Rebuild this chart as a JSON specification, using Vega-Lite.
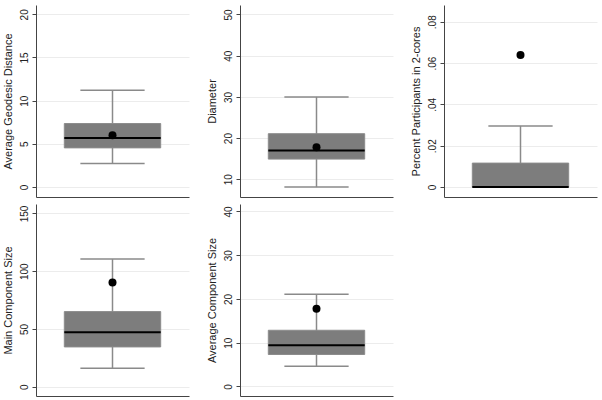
{
  "$schema": "https://vega.github.io/schema/vega-lite/v6.json",
  "padding": {"left": 2, "top": 5, "right": 5, "bottom": 5},
  "background": "white",
  "config": {
    "view": {"stroke": null},
    "font": "Liberation Sans",
    "axisY": {
      "labelAngle": -90, "labelFontSize": 10, "labelColor": "#222", "titleFontSize": 11, "titleFontWeight": "normal", "titleColor": "#222",
      "domainColor": "#444", "tickColor": "#444", "tickSize": 4, "gridColor": "#ececec", "labelPadding": 3, "titlePadding": 6
    },
    "axisX": {"ticks": false, "labels": false, "title": null, "grid": false, "domainColor": "#444"}
  },
  "data": {"values": [
    {"panel": "Average Geodesic Distance", "lo": 2.72, "q1": 4.53, "med": 5.68, "q3": 7.35, "hi": 11.2, "mean": 6.0},
    {"panel": "Diameter", "lo": 8.1, "q1": 14.9, "med": 17.0, "q3": 21.07, "hi": 30.0, "mean": 17.8},
    {"panel": "Percent Participants in 2-cores", "lo": 0, "q1": 0, "med": 0, "q3": 0.0116, "hi": 0.0296, "mean": 0.0639},
    {"panel": "Main Component Size", "lo": 16, "q1": 34.4, "med": 47.2, "q3": 65, "hi": 110.5, "mean": 90.2},
    {"panel": "Average Component Size", "lo": 4.6, "q1": 7.29, "med": 9.42, "q3": 12.83, "hi": 21.07, "mean": 17.74}
  ]},
  "columns": 3,
  "spacing": {"column": 17, "row": 7},
  "concat": [
    {
      "width": 153, "height": 192,
      "transform": [{"filter": "datum.panel == 'Average Geodesic Distance'"}],
      "encoding": {
        "x": {"datum": 0.5, "type": "quantitative", "scale": {"domain": [0, 1]}, "axis": {}},
        "y": {"field": "lo", "type": "quantitative", "scale": {"domain": [-1.16, 21.08], "nice": false, "zero": false}, "axis": {"title": "Average Geodesic Distance", "values": [0, 5, 10, 15, 20]}}
      },
      "layer": [
        {"mark": {"type": "rule", "color": "#8a8a8a", "strokeWidth": 1.5}, "encoding": {"y2": {"field": "hi"}}},
        {"mark": {"type": "rule", "color": "#8a8a8a", "strokeWidth": 1.5}, "encoding": {"x": {"datum": 0.29}, "x2": {"datum": 0.71}, "y": {"field": "hi"}}},
        {"mark": {"type": "rule", "color": "#8a8a8a", "strokeWidth": 1.5}, "encoding": {"x": {"datum": 0.29}, "x2": {"datum": 0.71}}},
        {"mark": {"type": "rect", "fill": "#7d7d7d", "stroke": "#8c8c8c", "strokeWidth": 1}, "encoding": {"x": {"datum": 0.185}, "x2": {"datum": 0.815}, "y": {"field": "q1"}, "y2": {"field": "q3"}}},
        {"mark": {"type": "rule", "color": "#000", "strokeWidth": 2}, "encoding": {"x": {"datum": 0.185}, "x2": {"datum": 0.815}, "y": {"field": "med"}}},
        {"mark": {"type": "point", "filled": true, "color": "#000", "opacity": 1, "size": 64}, "encoding": {"y": {"field": "mean"}}}
      ]
    },
    {
      "width": 153, "height": 192,
      "transform": [{"filter": "datum.panel == 'Diameter'"}],
      "encoding": {
        "x": {"datum": 0.5, "type": "quantitative", "scale": {"domain": [0, 1]}, "axis": {}},
        "y": {"field": "lo", "type": "quantitative", "scale": {"domain": [5.7, 52.3], "nice": false, "zero": false}, "axis": {"title": "Diameter", "values": [10, 20, 30, 40, 50]}}
      },
      "layer": [
        {"mark": {"type": "rule", "color": "#8a8a8a", "strokeWidth": 1.5}, "encoding": {"y2": {"field": "hi"}}},
        {"mark": {"type": "rule", "color": "#8a8a8a", "strokeWidth": 1.5}, "encoding": {"x": {"datum": 0.29}, "x2": {"datum": 0.71}, "y": {"field": "hi"}}},
        {"mark": {"type": "rule", "color": "#8a8a8a", "strokeWidth": 1.5}, "encoding": {"x": {"datum": 0.29}, "x2": {"datum": 0.71}}},
        {"mark": {"type": "rect", "fill": "#7d7d7d", "stroke": "#8c8c8c", "strokeWidth": 1}, "encoding": {"x": {"datum": 0.185}, "x2": {"datum": 0.815}, "y": {"field": "q1"}, "y2": {"field": "q3"}}},
        {"mark": {"type": "rule", "color": "#000", "strokeWidth": 2}, "encoding": {"x": {"datum": 0.185}, "x2": {"datum": 0.815}, "y": {"field": "med"}}},
        {"mark": {"type": "point", "filled": true, "color": "#000", "opacity": 1, "size": 64}, "encoding": {"y": {"field": "mean"}}}
      ]
    },
    {
      "width": 153, "height": 192,
      "transform": [{"filter": "datum.panel == 'Percent Participants in 2-cores'"}],
      "encoding": {
        "x": {"datum": 0.5, "type": "quantitative", "scale": {"domain": [0, 1]}, "axis": {}},
        "y": {"field": "lo", "type": "quantitative", "scale": {"domain": [-0.0048, 0.0881], "nice": false, "zero": false}, "axis": {"title": "Percent Participants in 2-cores", "values": [0, 0.02, 0.04, 0.06, 0.08], "labelExpr": "datum.value == 0 ? '0' : replace(format(datum.value, '.2f'), '0.', '.')"}}
      },
      "layer": [
        {"mark": {"type": "rule", "color": "#8a8a8a", "strokeWidth": 1.5}, "encoding": {"y2": {"field": "hi"}}},
        {"mark": {"type": "rule", "color": "#8a8a8a", "strokeWidth": 1.5}, "encoding": {"x": {"datum": 0.29}, "x2": {"datum": 0.71}, "y": {"field": "hi"}}},
        {"mark": {"type": "rule", "color": "#8a8a8a", "strokeWidth": 1.5}, "encoding": {"x": {"datum": 0.29}, "x2": {"datum": 0.71}}},
        {"mark": {"type": "rect", "fill": "#7d7d7d", "stroke": "#8c8c8c", "strokeWidth": 1}, "encoding": {"x": {"datum": 0.185}, "x2": {"datum": 0.815}, "y": {"field": "q1"}, "y2": {"field": "q3"}}},
        {"mark": {"type": "rule", "color": "#000", "strokeWidth": 2}, "encoding": {"x": {"datum": 0.185}, "x2": {"datum": 0.815}, "y": {"field": "med"}}},
        {"mark": {"type": "point", "filled": true, "color": "#000", "opacity": 1, "size": 64}, "encoding": {"y": {"field": "mean"}}}
      ]
    },
    {
      "width": 153, "height": 192,
      "transform": [{"filter": "datum.panel == 'Main Component Size'"}],
      "encoding": {
        "x": {"datum": 0.5, "type": "quantitative", "scale": {"domain": [0, 1]}, "axis": {}},
        "y": {"field": "lo", "type": "quantitative", "scale": {"domain": [-8.1, 158.2], "nice": false, "zero": false}, "axis": {"title": "Main Component Size", "values": [0, 50, 100, 150]}}
      },
      "layer": [
        {"mark": {"type": "rule", "color": "#8a8a8a", "strokeWidth": 1.5}, "encoding": {"y2": {"field": "hi"}}},
        {"mark": {"type": "rule", "color": "#8a8a8a", "strokeWidth": 1.5}, "encoding": {"x": {"datum": 0.29}, "x2": {"datum": 0.71}, "y": {"field": "hi"}}},
        {"mark": {"type": "rule", "color": "#8a8a8a", "strokeWidth": 1.5}, "encoding": {"x": {"datum": 0.29}, "x2": {"datum": 0.71}}},
        {"mark": {"type": "rect", "fill": "#7d7d7d", "stroke": "#8c8c8c", "strokeWidth": 1}, "encoding": {"x": {"datum": 0.185}, "x2": {"datum": 0.815}, "y": {"field": "q1"}, "y2": {"field": "q3"}}},
        {"mark": {"type": "rule", "color": "#000", "strokeWidth": 2}, "encoding": {"x": {"datum": 0.185}, "x2": {"datum": 0.815}, "y": {"field": "med"}}},
        {"mark": {"type": "point", "filled": true, "color": "#000", "opacity": 1, "size": 64}, "encoding": {"y": {"field": "mean"}}}
      ]
    },
    {
      "width": 153, "height": 192,
      "transform": [{"filter": "datum.panel == 'Average Component Size'"}],
      "encoding": {
        "x": {"datum": 0.5, "type": "quantitative", "scale": {"domain": [0, 1]}, "axis": {}},
        "y": {"field": "lo", "type": "quantitative", "scale": {"domain": [-2.2, 41.7], "nice": false, "zero": false}, "axis": {"title": "Average Component Size", "values": [0, 10, 20, 30, 40]}}
      },
      "layer": [
        {"mark": {"type": "rule", "color": "#8a8a8a", "strokeWidth": 1.5}, "encoding": {"y2": {"field": "hi"}}},
        {"mark": {"type": "rule", "color": "#8a8a8a", "strokeWidth": 1.5}, "encoding": {"x": {"datum": 0.29}, "x2": {"datum": 0.71}, "y": {"field": "hi"}}},
        {"mark": {"type": "rule", "color": "#8a8a8a", "strokeWidth": 1.5}, "encoding": {"x": {"datum": 0.29}, "x2": {"datum": 0.71}}},
        {"mark": {"type": "rect", "fill": "#7d7d7d", "stroke": "#8c8c8c", "strokeWidth": 1}, "encoding": {"x": {"datum": 0.185}, "x2": {"datum": 0.815}, "y": {"field": "q1"}, "y2": {"field": "q3"}}},
        {"mark": {"type": "rule", "color": "#000", "strokeWidth": 2}, "encoding": {"x": {"datum": 0.185}, "x2": {"datum": 0.815}, "y": {"field": "med"}}},
        {"mark": {"type": "point", "filled": true, "color": "#000", "opacity": 1, "size": 64}, "encoding": {"y": {"field": "mean"}}}
      ]
    }
  ]
}
